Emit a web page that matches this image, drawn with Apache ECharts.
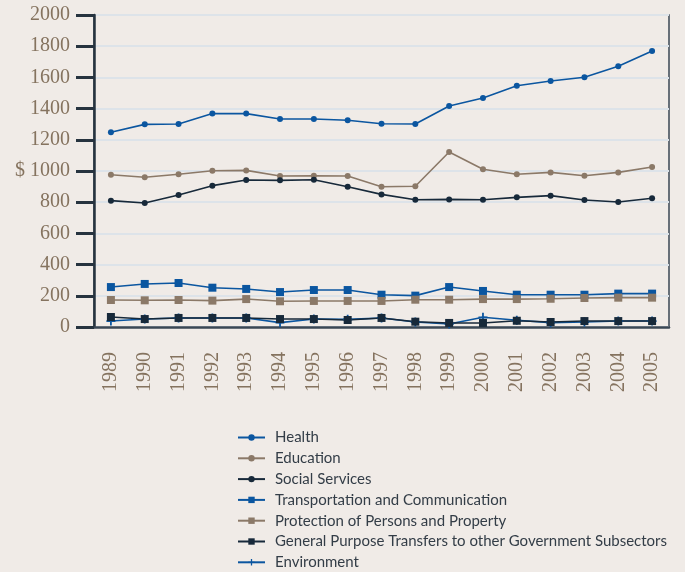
<!DOCTYPE html>
<html>
<head>
<meta charset="utf-8">
<script src="https://cdn.jsdelivr.net/npm/echarts@6/dist/echarts.min.js"></script>
<style>
  html, body { margin: 0; padding: 0; background: #f0ebe7; }
  #chart { width: 685px; height: 572px; }
</style>
</head>
<body>
<div id="chart"></div>
<script>
var years = ['1989', '1990', '1991', '1992', '1993', '1994', '1995', '1996', '1997',
  '1998', '1999', '2000', '2001', '2002', '2003', '2004', '2005']

var health = [1248, 1299, 1301, 1368, 1368, 1333, 1333, 1325, 1303, 1301, 1417, 1468, 1547, 1577, 1601, 1671, 1769]
var education = [976, 960, 979, 1002, 1004, 968, 970, 968, 899, 902, 1122, 1011, 979, 991, 970, 991, 1026]
var socialServices = [810, 795, 846, 906, 942, 940, 944, 899, 850, 816, 818, 816, 831, 842, 814, 801, 825]
var transportation = [256, 276, 282, 252, 244, 224, 237, 237, 207, 201, 256, 231, 207, 207, 207, 214, 214]
var protection = [173, 171, 173, 169, 179, 165, 167, 167, 167, 175, 175, 179, 179, 181, 186, 188, 188]
var transfers = [64, 51, 58, 58, 58, 51, 51, 45, 58, 34, 26, 26, 40, 32, 38, 38, 38]
var environment = [38, 51, 58, 58, 58, 28, 51, 49, 58, 32, 19, 62, 43, 28, 32, 38, 38]

var BLUE = '#0b56a0'
var TAUPE = '#8b7968'
var DARK = '#17293a'
var plus = 'path://M4,0h2v10h-2z M0,4h10v2h-10z'

function line (name, data, color, symbol, size) {
  return {
    name: name,
    type: 'line',
    data: data,
    symbol: symbol,
    symbolSize: size,
    lineStyle: { color: color, width: 1.6 },
    itemStyle: { color: color },
    emphasis: { disabled: true }
  }
}

var chart = echarts.init(document.getElementById('chart'))
chart.setOption({
  backgroundColor: '#f0ebe7',
  animation: false,
  grid: {
    left: 94, right: 16, top: 15, bottom: 245,
    show: true, borderColor: '#3a4754', borderWidth: 1.5,
    backgroundColor: 'transparent'
  },
  legend: {
    orient: 'vertical',
    left: 237,
    top: 430,
    padding: 0,
    itemWidth: 27,
    itemHeight: 8,
    itemGap: 5.8,
    textStyle: {
      fontFamily: 'Lato', fontSize: 15, lineHeight: 15, color: '#333d47',
      padding: [0, 0, 0, 5]
    },
    data: ['Health', 'Education', 'Social Services', 'Transportation and Communication',
      'Protection of Persons and Property', 'General Purpose Transfers to other Government Subsectors',
      'Environment']
  },
  xAxis: {
    type: 'category',
    data: years,
    boundaryGap: true,
    axisLine: { lineStyle: { color: '#3a4754', width: 2.5 } },
    axisTick: { length: 18, lineStyle: { color: '#26333f', width: 2.5 } },
    axisLabel: {
      rotate: 90, margin: 25, interval: 0,
      fontFamily: 'Liberation Serif', fontSize: 20, color: '#85735f'
    }
  },
  yAxis: {
    type: 'value',
    min: 0, max: 2000, interval: 200,
    axisLine: { show: true, lineStyle: { color: '#26333f', width: 2.5 } },
    axisTick: { show: true, length: 18, lineStyle: { color: '#26333f', width: 3 } },
    axisLabel: {
      margin: 24,
      fontFamily: 'Liberation Serif', fontSize: 20, color: '#85735f',
      formatter: function (v) { return v === 1000 ? '$ 1000' : String(v) }
    },
    splitLine: { lineStyle: { color: '#dde3e9', width: 2 } }
  },
  series: [
    line('Health', health, BLUE, 'circle', 6),
    line('Education', education, TAUPE, 'circle', 6),
    line('Social Services', socialServices, DARK, 'circle', 6),
    line('Transportation and Communication', transportation, BLUE, 'rect', 8),
    line('Protection of Persons and Property', protection, TAUPE, 'rect', 8),
    line('Environment', environment, BLUE, plus, 9),
    line('General Purpose Transfers to other Government Subsectors', transfers, DARK, 'rect', 8)
  ]
})
</script>
</body>
</html>
